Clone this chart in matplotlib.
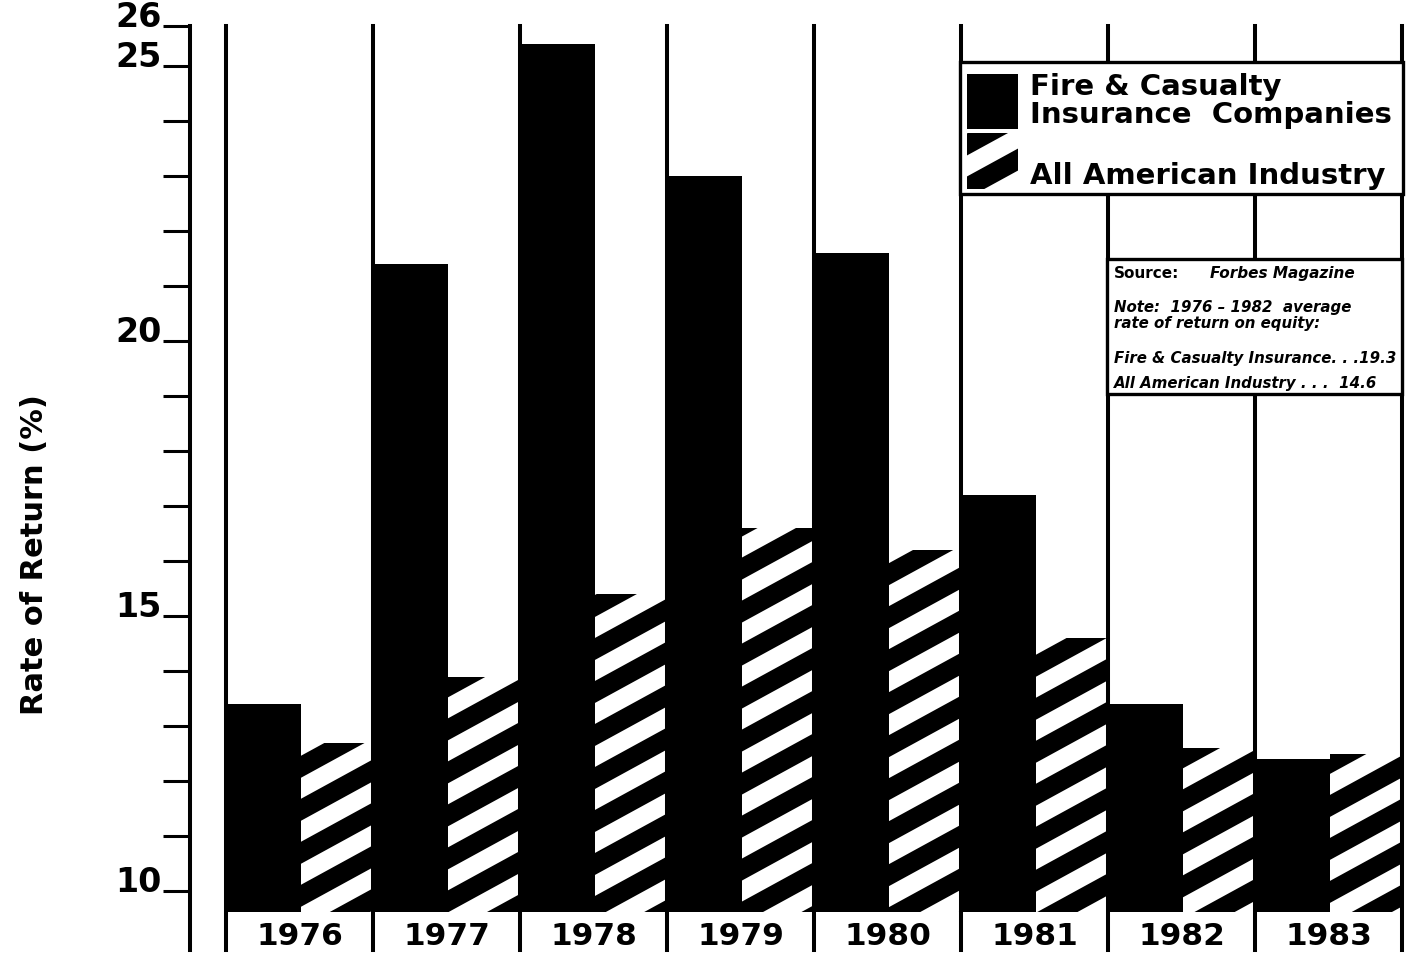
import matplotlib
matplotlib.use('Agg')
import matplotlib.pyplot as plt
import numpy as np
from matplotlib.patches import Rectangle
from matplotlib.collections import PolyCollection
from matplotlib.transforms import Affine2D

# Rate of return on equity (%), 1976-1983
years = ['1976', '1977', '1978', '1979', '1980', '1981', '1982', '1983']
fire_casualty = [13.4, 21.4, 25.4, 23.0, 21.6, 17.2, 13.4, 12.4]
all_industry = [12.7, 13.9, 15.4, 16.6, 16.2, 14.6, 12.6, 12.5]

legend_fire = 'Fire & Casualty\nInsurance  Companies'
legend_all = 'All American Industry'
note_source = ('Source:', 'Forbes Magazine')
note_lines = ['Note:  1976 \u2013 1982  average\nrate of return on equity:',
              'Fire & Casualty Insurance. . .19.3',
              'All American Industry . . .  14.6']

plt.rcParams['font.family'] = 'DejaVu Sans'
plt.rcParams['font.weight'] = 'bold'

W, H = 1411, 954
fig = plt.figure(figsize=(W / 100, H / 100), dpi=100)
# pixel helpers: px has y pointing down, pxup has y pointing up
px = Affine2D().scale(1 / W, -1 / H).translate(0, 1) + fig.transFigure
pxup = Affine2D().scale(1 / W, 1 / H) + fig.transFigure

ax = fig.add_axes([190 / W, (H - 913) / H, (1405 - 190) / W, (913 - 27) / H])
y_lo, y_hi = 9.62, 25.73
ax.set_xlim(-0.245, 8.02)
ax.set_ylim(y_lo, y_hi)
for s in ax.spines.values():
    s.set_visible(False)

groups = np.arange(len(years))
w_black = 0.51


def stripes():
    # thick white diagonal bands laid over a black patch
    slope, gap, period = 0.547, 21, 43
    polys = []
    for k in range(-25, 45):
        c = 32.6 + period * k
        polys.append([(0, c), (W, slope * W + c), (W, slope * W + c + gap), (0, c + gap)])
    return PolyCollection(polys, facecolors='white', edgecolors='none',
                          transform=pxup, zorder=2.5)


ax.bar(groups, fire_casualty, width=w_black, align='edge', color='black', zorder=2)
hatched = ax.bar(groups + w_black, all_industry, width=1 - w_black, align='edge',
                 color='black', zorder=2)
for bar in hatched:
    st = stripes()
    ax.add_collection(st, autolim=False)
    st.set_clip_path(bar)

# column dividers and the y axis line, running down through the year labels
for g in range(len(years) + 1):
    ax.axvline(g, ymin=-0.043, ymax=1, color='black', lw=2.9, clip_on=False, zorder=3)
ax.axvline(ax.get_xlim()[0], ymin=-0.043, ymax=1, color='black', lw=2.9,
           clip_on=False, zorder=3)

for g, yr in zip(groups, years):
    ax.text(g + 0.5, -0.027, yr, transform=ax.get_xaxis_transform(),
            ha='center', va='center', fontsize=22.5, fontweight='bold')

ticks = list(range(10, 26)) + [y_hi]
labels = ['10' if t == 10 else '15' if t == 15 else '20' if t == 20 else
          '25' if t == 25 else '' for t in ticks[:-1]] + ['26']
ax.set_yticks(ticks, labels)
ax.set_xticks([])
ax.tick_params(axis='y', direction='out', length=19.5, width=2.2, pad=1,
               labelsize=24)
for t in ax.get_yticklabels():
    t.set_verticalalignment('baseline')
    t.set_fontweight('bold')

fig.text(35 / W, 1 - 555 / H, 'Rate of Return (%)', rotation=90, ha='center',
         va='center', fontsize=22, fontweight='bold')

# legend box
fig.add_artist(Rectangle((960, 63), 443, 132, transform=px, facecolor='white',
                         edgecolor='black', lw=2.4, zorder=5))
fig.add_artist(Rectangle((967, 75), 51, 55, transform=px, facecolor='black',
                         edgecolor='none', zorder=6))
sw = Rectangle((967, 134), 51, 56, transform=px, facecolor='black',
               edgecolor='none', zorder=6)
fig.add_artist(sw)
sw_st = stripes()
sw_st.set_zorder(6.5)
fig.add_artist(sw_st)
sw_st.set_clip_path(sw)
fig.text(1030, 123, legend_fire, transform=px, ha='left', va='baseline',
         fontsize=21, fontweight='bold', linespacing=1.0, zorder=7)
fig.text(1030, 184, legend_all, transform=px, ha='left', va='baseline',
         fontsize=21, fontweight='bold', zorder=7)

# source / note box
fig.add_artist(Rectangle((1107, 260), 295, 135, transform=px, facecolor='white',
                         edgecolor='black', lw=2.4, zorder=5))
fig.text(1114, 278, note_source[0], transform=px, ha='left', va='baseline',
         fontsize=11, fontweight='bold', zorder=7)
fig.text(1210, 278, note_source[1], transform=px, ha='left', va='baseline',
         fontsize=11, fontweight='bold', style='italic', zorder=7)
fig.text(1114, 328, note_lines[0], transform=px, ha='left', va='baseline',
         fontsize=10.8, fontweight='bold', style='italic', linespacing=1.1, zorder=7)
fig.text(1114, 363, note_lines[1], transform=px, ha='left', va='baseline',
         fontsize=10.8, fontweight='bold', style='italic', zorder=7)
fig.text(1114, 388, note_lines[2], transform=px, ha='left', va='baseline',
         fontsize=10.8, fontweight='bold', style='italic', zorder=7)

fig.savefig('out.png', dpi=100, facecolor='white')
